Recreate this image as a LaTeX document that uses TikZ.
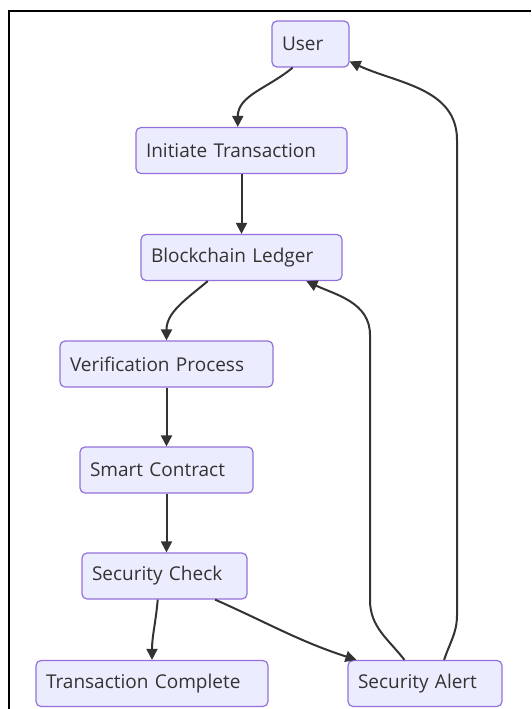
\documentclass[tikz,border=0pt]{standalone}
\usepackage{fontspec}
\setmainfont{Open Sans}
\usepackage{tikz}
\usetikzlibrary{calc}
\usetikzlibrary{arrows.meta}

\definecolor{boxfill}{HTML}{ECECFF}
\definecolor{boxline}{HTML}{9370DB}
\definecolor{inkgray}{HTML}{333333}

\begin{document}
\begin{tikzpicture}[x=1pt, y=1pt,
		box/.style={draw=boxline, fill=boxfill, line width=1.2pt, rounded corners=5pt,
			minimum height=46pt, inner xsep=10pt, inner ysep=0pt, text width=#1, align=left,
			text=inkgray, font=\fontsize{19}{22}\selectfont},
		flow/.style={draw=inkgray, line width=2pt, -{Triangle[length=11pt, width=11pt]}}]
			\useasboundingbox (0,0) rectangle (531,-709);
			\draw[line width=2pt] (9,-709) -- (9,-11) -- (531,-11);

			\node[box=57pt] (user) at (310.5,-44) {User};
			\node[box=191pt] (init) at (241.5,-150.5) {Initiate Transaction};
			\node[box=181pt] (ledger) at (241.5,-257.5) {Blockchain Ledger};
			\node[box=193pt] (verify) at (166.5,-364) {Verification Process};
			\node[box=153pt] (contract) at (166.5,-470) {Smart Contract};
			\node[box=145pt] (check) at (164.5,-576) {Security Check};
			\node[box=212pt] (done) at (152,-683.5) {Transaction Complete};
			\node[box=134pt] (alert) at (425,-683.5) {Security Alert};

			% bends of the two long return lines
			\coordinate (ledgerlow) at (370,-600);
			\coordinate (ledgerhigh) at (370,-335);
			\coordinate (userlow) at (457,-615);
			\coordinate (userhigh) at (457,-140);

			\path[flow] (user.-127) to[out=-140, in=90] (init.99);
			\path[flow] (init) -- (ledger);
			\path[flow] (ledger.-145) to[out=-140, in=90] (verify.north);
			\path[flow] (verify) -- (verify |- contract.north);
			\path[flow] (contract) -- (contract |- check.north);
			\path[flow] (check.-106) to[out=-95, in=90] (done.north);
			\path[flow] (check.-25) to[out=-24, in=162] (alert.161);
			\path[flow] (alert.131) to[out=128, in=-90] (ledgerlow) -- (ledgerhigh) to[out=90, in=-25] (ledger.-20);
			\path[flow] (alert.51) to[out=72, in=-90] (userlow) -- (userhigh) to[out=90, in=-25] (user.-24);
		\end{tikzpicture}
\end{document}
